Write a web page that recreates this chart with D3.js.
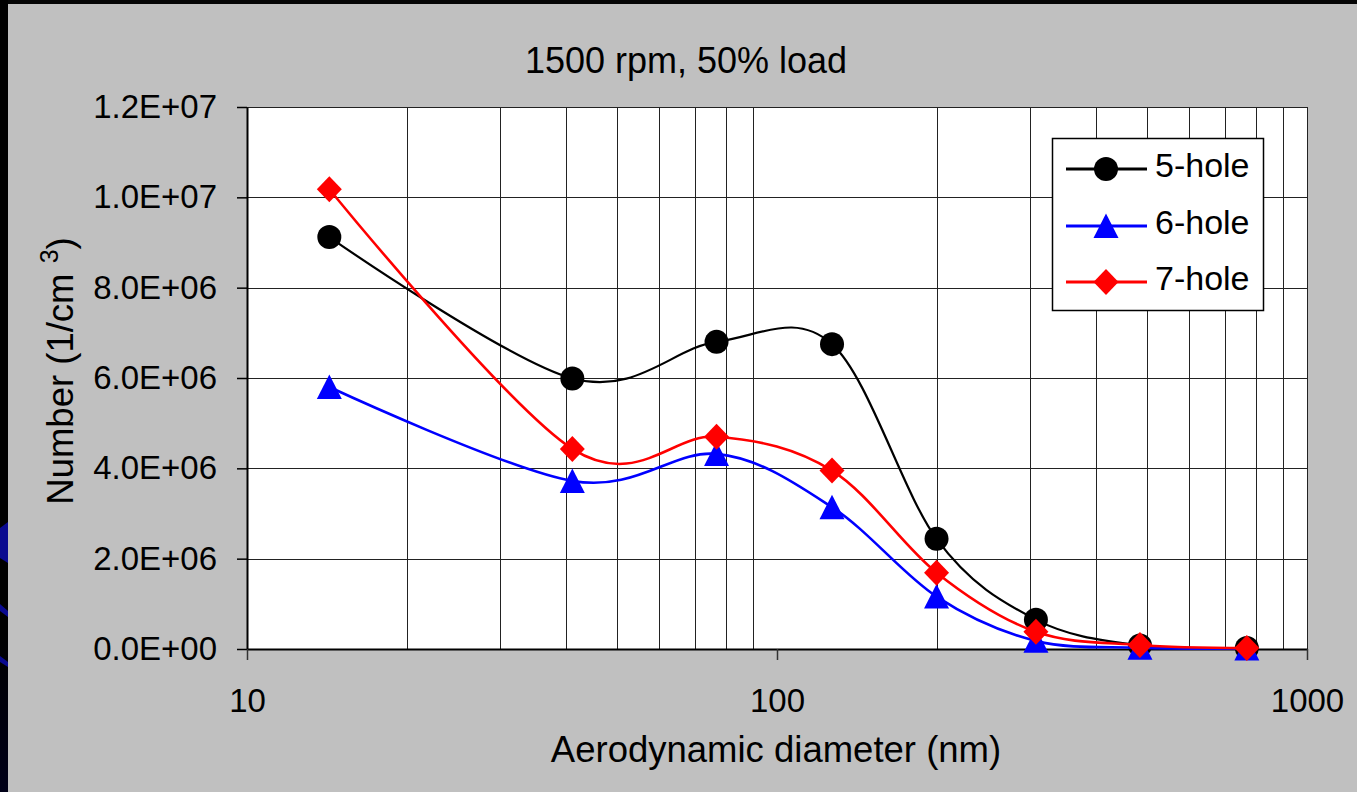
<!DOCTYPE html>
<html>
<head>
<meta charset="utf-8">
<script src="https://cdn.jsdelivr.net/npm/d3@7"></script>
<style>
  html, body { margin: 0; padding: 0; background: #c0c0c0; }
  svg { display: block; }
  text { font-family: "Liberation Sans", Arial, sans-serif; fill: #000; }
</style>
</head>
<body>
<svg id="chart" width="1357" height="792"></svg>
<script>
// ---- data ----
const chartTitle = "1500 rpm, 50% load";
const xTitle = "Aerodynamic diameter (nm)";
const diameters = [14.3, 41.1, 76.9, 127, 200, 308, 484, 770];
const hole5 = [9.12e6, 5.99e6, 6.80e6, 6.75e6, 2.44e6, 0.65e6, 0.08e6, 0.02e6];
const hole6 = [5.80e6, 3.72e6, 4.32e6, 3.14e6, 1.16e6, 0.18e6, 0.03e6, 0.01e6];
const hole7 = [10.18e6, 4.43e6, 4.70e6, 3.95e6, 1.69e6, 0.38e6, 0.09e6, 0.02e6];
const seriesNames = ["5-hole", "6-hole", "7-hole"];
const seriesColors = ["#000000", "#0000ff", "#ff0000"];
const seriesSymbols = ["circle", "triangle", "diamond"];
const xTickValues = [10, 100, 1000];
const xTickLabels = ["10", "100", "1000"];
const yTickValues = [0, 2e6, 4e6, 6e6, 8e6, 10e6, 12e6];
const yTickLabels = ["0.0E+00", "2.0E+06", "4.0E+06", "6.0E+06", "8.0E+06", "1.0E+07", "1.2E+07"];

const seriesValues = [hole5, hole6, hole7];

// ---- layout ----
const svg = d3.select("#chart");
const L = 247, R = 1307, T = 107, B = 649;

// slide background edges
svg.append("rect").attr("x", 0).attr("y", 0).attr("width", 1357).attr("height", 792).attr("fill", "#c0c0c0");
svg.append("rect").attr("x", 0).attr("y", 0).attr("width", 1357).attr("height", 4).attr("fill", "#050505");
const edgeGrad = svg.append("defs").append("linearGradient").attr("id", "edge").attr("x1", 0).attr("y1", 0).attr("x2", 0).attr("y2", 1);
edgeGrad.append("stop").attr("offset", "0%").attr("stop-color", "#000");
edgeGrad.append("stop").attr("offset", "80%").attr("stop-color", "#000");
edgeGrad.append("stop").attr("offset", "100%").attr("stop-color", "#000018");
svg.append("rect").attr("x", 0).attr("y", 0).attr("width", 8).attr("height", 792).attr("fill", "url(#edge)");
svg.append("path").attr("d", "M0,528 L8,522 L8,563 L0,558 Z").attr("fill", "#0a0a90");
svg.append("path").attr("d", "M0,604 L8,611 L8,617 L0,611 Z").attr("fill", "#0a0a90");
svg.append("path").attr("d", "M0,656 L8,662 L8,667 L0,662 Z").attr("fill", "#0a0a90");

// plot area
svg.append("rect").attr("x", L).attr("y", T).attr("width", R - L).attr("height", B - T).attr("fill", "#ffffff");

const x = d3.scaleLog().domain([10, 1000]).range([L, R]);
const y = d3.scaleLinear().domain([0, 1.2e7]).range([B, T]);

// grid
const minorX = [];
[10, 100].forEach(base => { for (let k = 2; k <= 9; k++) minorX.push(base * k); });
minorX.push(1000);
svg.append("g").selectAll("line").data(minorX).join("line")
  .attr("x1", d => Math.round(x(d)) + 0.5).attr("x2", d => Math.round(x(d)) + 0.5)
  .attr("y1", T).attr("y2", B)
  .attr("stroke", "#222").attr("stroke-width", 1);
svg.append("g").selectAll("line").data(yTickValues.slice(1)).join("line")
  .attr("x1", L).attr("x2", R)
  .attr("y1", d => Math.round(y(d)) + 0.5).attr("y2", d => Math.round(y(d)) + 0.5)
  .attr("stroke", "#222").attr("stroke-width", 1);

// axes
const yAxis = d3.axisLeft(y).tickValues(yTickValues)
  .tickFormat((d, i) => yTickLabels[i]).tickSize(10).tickSizeOuter(0).tickPadding(20);
const gy = svg.append("g").attr("transform", `translate(${L},0)`).call(yAxis);
gy.selectAll("text").attr("font-size", 33).attr("font-family", "Liberation Sans, Arial, sans-serif").attr("fill", "#000");
gy.selectAll("line").attr("stroke", "#000").attr("stroke-width", 1.5);
gy.select(".domain").attr("stroke", "#000").attr("stroke-width", 2);

const xAxis = d3.axisBottom(x).tickValues(xTickValues)
  .tickFormat((d, i) => xTickLabels[i]).tickSize(11).tickSizeOuter(0).tickPadding(29);
const gx = svg.append("g").attr("transform", `translate(0,${B})`).call(xAxis);
gx.selectAll("text").attr("font-size", 33).attr("font-family", "Liberation Sans, Arial, sans-serif").attr("fill", "#000");
gx.selectAll("line").attr("stroke", "#333").attr("stroke-width", 1.5);
gx.select(".domain").attr("stroke", "#000").attr("stroke-width", 2);

// titles
svg.append("text").attr("x", 686).attr("y", 73).attr("text-anchor", "middle")
  .attr("font-size", 36).text(chartTitle);
svg.append("text").attr("x", 776).attr("y", 762).attr("text-anchor", "middle")
  .attr("font-size", 36.5).text(xTitle);
const yt = svg.append("text").attr("transform", "translate(73,371) rotate(-90)")
  .attr("text-anchor", "middle").attr("font-size", 36.5);
yt.append("tspan").text("Number (1/cm ");
yt.append("tspan").attr("dy", -15).attr("font-size", 25).text("3");
yt.append("tspan").attr("dy", 15).text(")");

// symbols
function drawSymbol(g, type, cx, cy, color) {
  if (type === "circle") {
    g.append("circle").attr("cx", cx).attr("cy", cy).attr("r", 12).attr("fill", color);
  } else if (type === "triangle") {
    g.append("path").attr("d", `M${cx},${cy - 12.5} L${cx + 12.5},${cy + 12} L${cx - 12.5},${cy + 12} Z`).attr("fill", color);
  } else {
    g.append("path").attr("d", `M${cx},${cy - 13} L${cx + 12.5},${cy} L${cx},${cy + 13} L${cx - 12.5},${cy} Z`).attr("fill", color);
  }
}

const line = d3.line().x(d => x(d[0])).y(d => y(d[1])).curve(d3.curveCardinal.tension(0));

seriesValues.forEach((vals, si) => {
  const pts = diameters.map((d, i) => [d, vals[i]]);
  const g = svg.append("g");
  g.append("path").datum(pts).attr("d", line).attr("fill", "none")
    .attr("stroke", seriesColors[si]).attr("stroke-width", si === 0 ? 2.2 : 2.6)
    .attr("stroke-linejoin", "round");
  pts.forEach(p => drawSymbol(g, seriesSymbols[si], x(p[0]), y(p[1]), seriesColors[si]));
});

// legend
const lg = svg.append("g");
lg.append("rect").attr("x", 1052.5).attr("y", 138.5).attr("width", 211).attr("height", 172)
  .attr("fill", "#fff").attr("stroke", "#000").attr("stroke-width", 1.5);
const legendY = [169, 226, 282];
seriesNames.forEach((name, i) => {
  const ly = legendY[i];
  lg.append("line").attr("x1", 1066).attr("x2", 1147).attr("y1", ly).attr("y2", ly)
    .attr("stroke", seriesColors[i]).attr("stroke-width", 3);
  drawSymbol(lg, seriesSymbols[i], 1106, ly, seriesColors[i]);
  lg.append("text").attr("x", 1155).attr("y", ly + 8).attr("font-size", 34).text(name);
});
</script>
</body>
</html>
